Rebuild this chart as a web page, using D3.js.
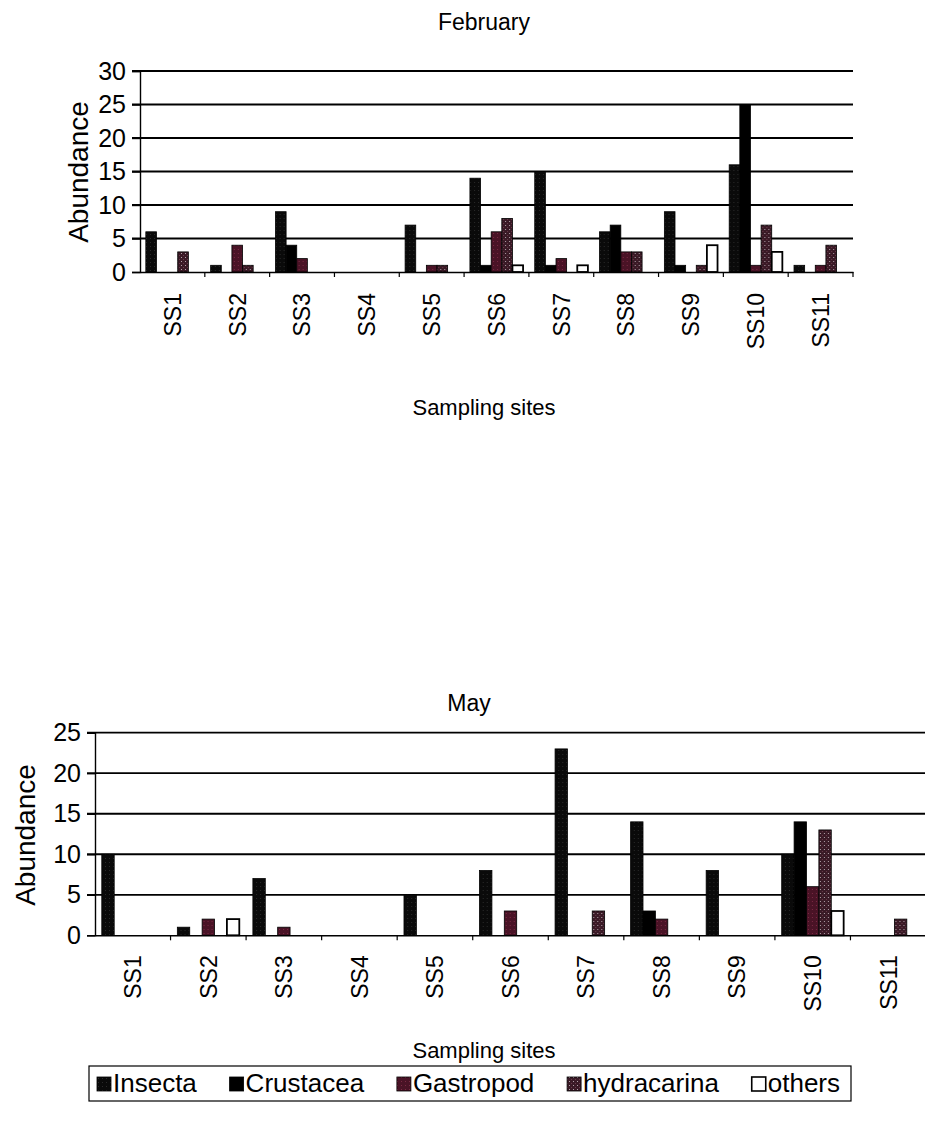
<!DOCTYPE html>
<html><head><meta charset="utf-8">
<script src="https://cdn.jsdelivr.net/npm/d3@7"></script>
<style>
body{margin:0;background:#fff;}
svg{display:block;font-family:"Liberation Sans",Arial,sans-serif;}
</style></head>
<body>
<svg id="c" width="925" height="1131"></svg>
<script>
const sites = ["SS1","SS2","SS3","SS4","SS5","SS6","SS7","SS8","SS9","SS10","SS11"];
const seriesNames = ["Insecta","Crustacea","Gastropod","hydracarina","others"];

const febInsecta     = [6,1,9,0,7,14,15,6,9,16,1];
const febCrustacea   = [0,0,4,0,0,1,1,7,1,25,0];
const febGastropod   = [0,4,2,0,1,6,2,3,0,1,1];
const febHydracarina = [3,1,0,0,1,8,0,3,1,7,4];
const febOthers      = [0,0,0,0,0,1,1,0,4,3,0];

const mayInsecta     = [10,1,7,0,5,8,23,14,8,10,0];
const mayCrustacea   = [0,0,0,0,0,0,0,3,0,14,0];
const mayGastropod   = [0,2,1,0,0,3,0,2,0,6,0];
const mayHydracarina = [0,0,0,0,0,0,3,0,0,13,2];
const mayOthers      = [0,2,0,0,0,0,0,0,0,3,0];

const febTicks = [0,5,10,15,20,25,30];
const mayTicks = [0,5,10,15,20,25];

const svg = d3.select("#c");
const FONT = '"Liberation Sans",Arial,sans-serif';

// patterns
const defs = svg.append("defs");
const pI = defs.append("pattern").attr("id","pInsecta").attr("width",4).attr("height",4).attr("patternUnits","userSpaceOnUse");
pI.append("rect").attr("width",4).attr("height",4).attr("fill","#0a0a0a");
pI.append("rect").attr("x",2).attr("y",2).attr("width",1).attr("height",1).attr("fill","#2a2a2a");
const pG = defs.append("pattern").attr("id","pGastropod").attr("width",4).attr("height",4).attr("patternUnits","userSpaceOnUse");
pG.append("rect").attr("width",4).attr("height",4).attr("fill","#4a1326");
pG.append("rect").attr("x",1).attr("y",1).attr("width",1).attr("height",1).attr("fill","#7a2a44");
const pH = defs.append("pattern").attr("id","pHydra").attr("width",4).attr("height",4).attr("patternUnits","userSpaceOnUse");
pH.append("rect").attr("width",4).attr("height",4).attr("fill","#3a1a26");
pH.append("rect").attr("x",1).attr("y",1).attr("width",1).attr("height",1).attr("fill","#b0a0a8");
pH.append("rect").attr("x",3).attr("y",3).attr("width",1).attr("height",1).attr("fill","#6a3a4a");

const fills = {Insecta:"url(#pInsecta)",Crustacea:"#000",Gastropod:"url(#pGastropod)",hydracarina:"url(#pHydra)",others:"#fff"};

function chart(cfg){
  const g = svg.append("g");
  const x0 = d3.scaleBand().domain(sites).range([cfg.left,cfg.right]).paddingInner(0).paddingOuter(0);
  const bw = x0.bandwidth();
  const x1 = d3.scaleBand().domain(seriesNames).range([bw*0.09,bw*0.91]).padding(0);
  const y = d3.scaleLinear().domain([0,cfg.max]).range([cfg.bottom,cfg.top]);

  // gridlines
  g.append("g").selectAll("line").data(cfg.ticks.filter(t=>t>0)).join("line")
    .attr("x1",cfg.left-8).attr("x2",cfg.gridRight).attr("y1",d=>y(d)).attr("y2",d=>y(d))
    .attr("stroke","#000").attr("stroke-width",1.8);

  // y axis
  const ya = d3.axisLeft(y).tickValues(cfg.ticks).tickSize(8).tickPadding(6);
  const yg = g.append("g").attr("transform",`translate(${cfg.left},0)`).call(ya);
  yg.select(".domain").attr("stroke","#000").attr("stroke-width",1.4);
  yg.selectAll(".tick line").attr("stroke","#000").attr("stroke-width",1.4);
  yg.selectAll(".tick text").attr("font-size",cfg.yFont).attr("font-family",FONT).attr("fill","#000");

  // bars
  const data = sites.map((s,i)=>({site:s, vals: seriesNames.map((n,k)=>({name:n, v:cfg.series[k][i]}))}));
  g.append("g").selectAll("g").data(data).join("g")
    .attr("transform",d=>`translate(${x0(d.site)},0)`)
    .selectAll("rect").data(d=>d.vals.filter(v=>v.v>0)).join("rect")
    .attr("x",d=>x1(d.name)).attr("width",x1.bandwidth())
    .attr("y",d=>y(d.v)).attr("height",d=>y(0)-y(d.v))
    .attr("fill",d=>fills[d.name]).attr("stroke","#000").attr("stroke-width",d=>d.name==="others"?1.8:0.8);

  // x axis
  const xa = d3.axisBottom(x0).tickSize(0).tickFormat("");
  const xg = g.append("g").attr("transform",`translate(0,${cfg.bottom})`).call(xa);
  xg.select(".domain").attr("stroke","#000").attr("stroke-width",1.4);
  const bounds = sites.map(s=>x0(s)).concat([cfg.right]);
  g.append("g").selectAll("line").data(bounds.slice(1)).join("line")
    .attr("x1",d=>d).attr("x2",d=>d).attr("y1",cfg.bottom).attr("y2",cfg.bottom+5)
    .attr("stroke","#000").attr("stroke-width",1.2);

  // x labels
  g.append("g").selectAll("text").data(sites).join("text")
    .attr("transform",d=>`translate(${x0(d)+bw/2+cfg.xFont*0.36},${cfg.bottom+cfg.xLabelOff}) rotate(-90)`)
    .attr("text-anchor","end").attr("font-size",cfg.xFont).attr("font-family",FONT).text(d=>d);

  // titles
  g.append("text").attr("x",cfg.titleX).attr("y",cfg.titleY).attr("text-anchor","middle")
    .attr("font-size",cfg.titleFont).attr("font-family",FONT).text(cfg.title);
  g.append("text").attr("x",cfg.xTitleX).attr("y",cfg.xTitleY).attr("text-anchor","middle")
    .attr("font-size",cfg.xTitleFont).attr("font-family",FONT).text("Sampling sites");
  g.append("text").attr("transform",`translate(${cfg.yTitleX},${cfg.yTitleY}) rotate(-90)`).attr("text-anchor","middle")
    .attr("font-size",cfg.yTitleFont).attr("font-family",FONT).text("Abundance");
}

chart({left:140,right:853,gridRight:853,top:71,bottom:272,max:30,ticks:febTicks,
  series:[febInsecta,febCrustacea,febGastropod,febHydracarina,febOthers],
  yFont:25,xFont:23,xLabelOff:21,title:"February",titleX:484,titleY:30,titleFont:23,
  xTitleX:484,xTitleY:415,xTitleFont:22,yTitleX:88,yTitleY:172,yTitleFont:28});

chart({left:95,right:926,gridRight:926,top:732.7,bottom:935.3,max:25,ticks:mayTicks,
  series:[mayInsecta,mayCrustacea,mayGastropod,mayHydracarina,mayOthers],
  yFont:25,xFont:23,xLabelOff:20,title:"May",titleX:469,titleY:711,titleFont:23,
  xTitleX:484,xTitleY:1058,xTitleFont:22,yTitleX:35,yTitleY:835,yTitleFont:28});

// legend
const lg = svg.append("g");
lg.append("rect").attr("x",89).attr("y",1066).attr("width",762).attr("height",35).attr("fill","#fff").attr("stroke","#000").attr("stroke-width",1.2);
const li = lg.selectAll("g").data(seriesNames).join("g");
li.append("rect").attr("y",1077).attr("width",14).attr("height",14).attr("fill",d=>fills[d]).attr("stroke","#000").attr("stroke-width",d=>d==="others"?1.6:0.8);
li.append("text").attr("x",16).attr("y",1092).attr("font-size",26).attr("font-family",FONT).text(d=>d);
// spread items between 97 and 840
const widths = li.nodes().map(n=>16 + n.querySelector("text").getComputedTextLength());
const total = d3.sum(widths);
const gap = (840 - 97 - total)/(seriesNames.length-1);
let cx = 97;
li.each(function(d,i){
  d3.select(this).select("rect").attr("x",cx);
  d3.select(this).select("text").attr("x",cx+16);
  cx += widths[i] + gap;
});
</script>
</body></html>
